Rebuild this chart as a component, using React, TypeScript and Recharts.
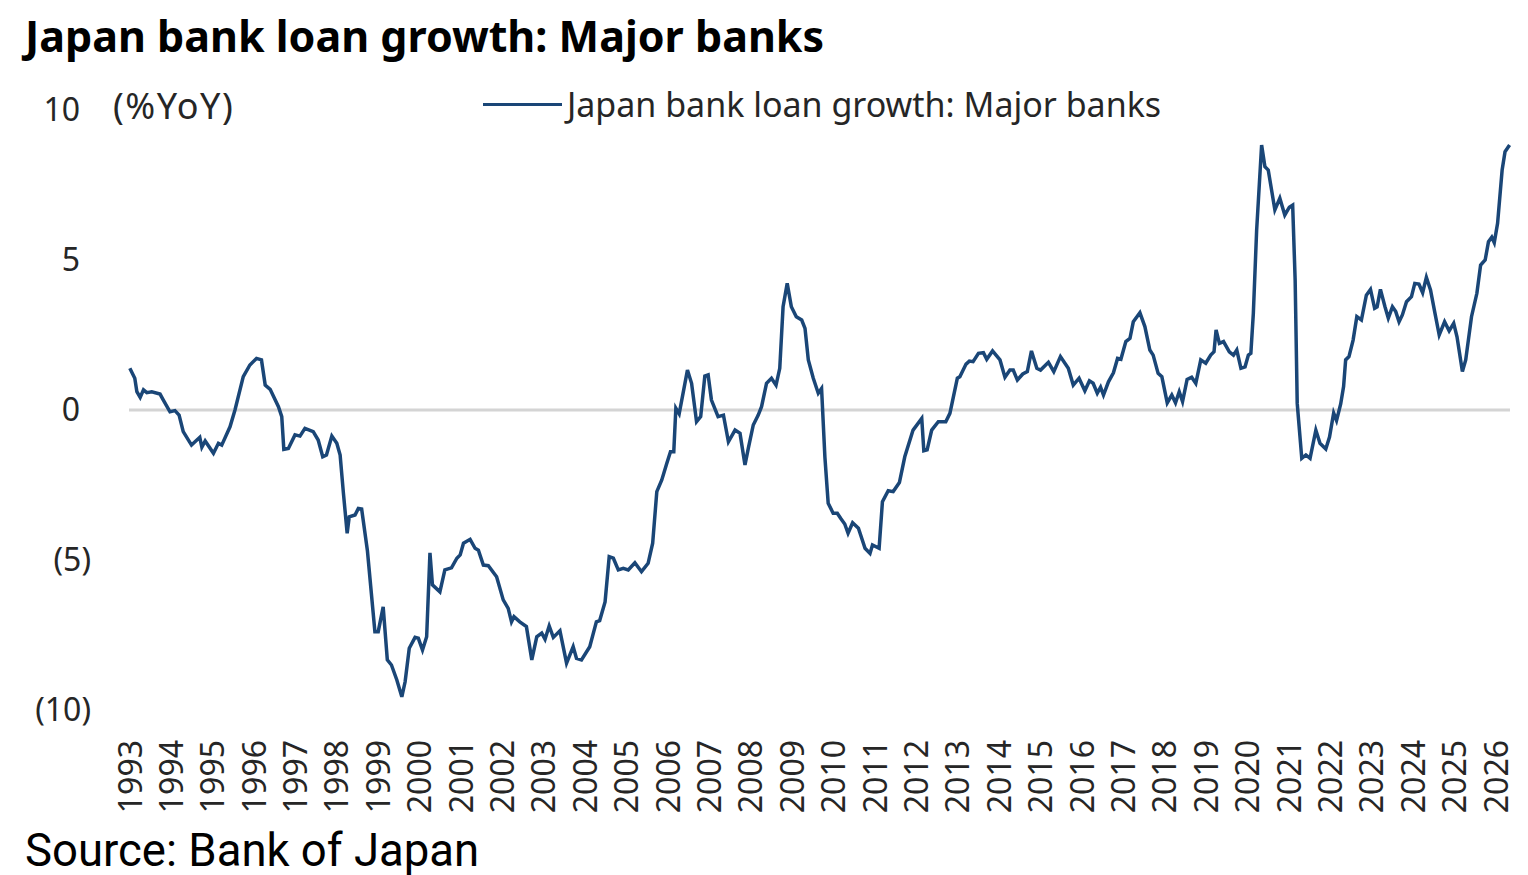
import { CartesianGrid, Legend, Line, LineChart, ReferenceLine, XAxis, YAxis } from "recharts";

const obsDates = [
  1993.02, 1993.14, 1993.19, 1993.27, 1993.35, 1993.43, 1993.55, 1993.75, 1993.83, 1993.99,
  1994.11, 1994.21, 1994.31, 1994.51, 1994.71, 1994.76, 1994.84, 1995.04, 1995.16, 1995.24,
  1995.44, 1995.56, 1995.76, 1995.92, 1996.08, 1996.2, 1996.29, 1996.41, 1996.61, 1996.69,
  1996.74, 1996.85, 1997.01, 1997.13, 1997.25, 1997.45, 1997.57, 1997.68, 1997.77, 1997.9,
  1998.02, 1998.1, 1998.18, 1998.27, 1998.32, 1998.46, 1998.54, 1998.62, 1998.76, 1998.94,
  1999.02, 1999.14, 1999.24, 1999.34, 1999.47, 1999.59, 1999.67, 1999.77, 1999.91, 1999.99,
  2000.09, 2000.19, 2000.27, 2000.33, 2000.51, 2000.63, 2000.79, 2000.92, 2001.0, 2001.08,
  2001.24, 2001.36, 2001.44, 2001.56, 2001.68, 2001.88, 2002.04, 2002.16, 2002.24, 2002.3,
  2002.44, 2002.6, 2002.73, 2002.85, 2002.97, 2003.05, 2003.15, 2003.25, 2003.41, 2003.57,
  2003.73, 2003.81, 2003.93, 2004.13, 2004.29, 2004.37, 2004.5, 2004.6, 2004.7, 2004.82,
  2004.94, 2005.06, 2005.22, 2005.38, 2005.54, 2005.65, 2005.75, 2005.87, 2005.99, 2006.08,
  2006.16, 2006.21, 2006.29, 2006.49, 2006.59, 2006.71, 2006.81, 2006.91, 2006.99, 2007.07,
  2007.23, 2007.36, 2007.48, 2007.64, 2007.76, 2007.88, 2007.96, 2008.08, 2008.2, 2008.28,
  2008.4, 2008.52, 2008.63, 2008.72, 2008.8, 2008.9, 2009.0, 2009.12, 2009.25, 2009.33,
  2009.41, 2009.53, 2009.65, 2009.73, 2009.81, 2009.89, 2010.01, 2010.11, 2010.19, 2010.29,
  2010.37, 2010.48, 2010.62, 2010.78, 2010.9, 2010.96, 2011.12, 2011.2, 2011.34, 2011.46,
  2011.61, 2011.74, 2011.94, 2012.15, 2012.2, 2012.28, 2012.39, 2012.55, 2012.73, 2012.83,
  2013.01, 2013.07, 2013.22, 2013.3, 2013.39, 2013.52, 2013.64, 2013.72, 2013.86, 2014.04,
  2014.16, 2014.28, 2014.36, 2014.46, 2014.59, 2014.7, 2014.8, 2014.93, 2015.02, 2015.21,
  2015.34, 2015.5, 2015.69, 2015.81, 2015.95, 2016.09, 2016.2, 2016.29, 2016.39, 2016.47,
  2016.54, 2016.66, 2016.78, 2016.88, 2016.96, 2017.08, 2017.18, 2017.26, 2017.42, 2017.54,
  2017.66, 2017.74, 2017.86, 2017.95, 2018.08, 2018.19, 2018.28, 2018.37, 2018.45, 2018.56,
  2018.67, 2018.77, 2018.89, 2019.01, 2019.13, 2019.21, 2019.26, 2019.34, 2019.44, 2019.58,
  2019.68, 2019.76, 2019.86, 2019.96, 2020.04, 2020.1, 2020.16, 2020.24, 2020.36, 2020.44,
  2020.52, 2020.68, 2020.8, 2020.92, 2021.03, 2021.11, 2021.17, 2021.22, 2021.33, 2021.43,
  2021.53, 2021.67, 2021.77, 2021.91, 2022.0, 2022.1, 2022.17, 2022.27, 2022.34, 2022.39,
  2022.47, 2022.57, 2022.66, 2022.77, 2022.89, 2022.99, 2023.09, 2023.15, 2023.23, 2023.34,
  2023.42, 2023.52, 2023.6, 2023.68, 2023.76, 2023.86, 2023.98, 2024.06, 2024.16, 2024.25,
  2024.34, 2024.44, 2024.54, 2024.65, 2024.78, 2024.89, 2025.0, 2025.08, 2025.21, 2025.29,
  2025.43, 2025.56, 2025.65, 2025.76, 2025.84, 2025.92, 2025.98, 2026.06, 2026.17, 2026.24,
  2026.35,
];

// major banks loan growth, %YoY
const majorBanksYoY = [
  1.39, 1.06, 0.61, 0.42, 0.67, 0.58, 0.61, 0.53, 0.33, -0.06,
  -0.02, -0.17, -0.72, -1.17, -0.91, -1.24, -1.03, -1.44, -1.11, -1.17,
  -0.56, 0.0, 1.11, 1.5, 1.72, 1.67, 0.83, 0.69, 0.11, -0.22,
  -1.31, -1.28, -0.83, -0.87, -0.61, -0.72, -1.0, -1.56, -1.5, -0.87,
  -1.11, -1.5, -2.78, -4.11, -3.56, -3.5, -3.28, -3.3, -4.7, -7.39,
  -7.39, -6.56, -8.33, -8.5, -9.0, -9.56, -9.06, -7.94, -7.58, -7.61,
  -8.0, -7.56, -4.76, -5.83, -6.06, -5.33, -5.26, -4.94, -4.83, -4.44,
  -4.31, -4.61, -4.67, -5.17, -5.19, -5.56, -6.33, -6.61, -7.06, -6.89,
  -7.06, -7.22, -8.33, -7.56, -7.44, -7.64, -7.2, -7.58, -7.36, -8.44,
  -7.89, -8.28, -8.33, -7.89, -7.06, -7.02, -6.4, -4.89, -4.94, -5.33,
  -5.28, -5.33, -5.09, -5.39, -5.11, -4.44, -2.72, -2.33, -1.78, -1.39,
  -1.39, 0.06, -0.13, 1.33, 0.89, -0.39, -0.22, 1.13, 1.17, 0.33,
  -0.22, -0.17, -1.06, -0.67, -0.78, -1.83, -1.28, -0.5, -0.17, 0.11,
  0.89, 1.06, 0.83, 1.39, 3.44, 4.22, 3.44, 3.11, 3.0, 2.72,
  1.67, 1.06, 0.56, 0.72, -1.56, -3.11, -3.44, -3.44, -3.61, -3.8,
  -4.11, -3.76, -3.94, -4.61, -4.78, -4.5, -4.61, -3.06, -2.69, -2.72,
  -2.42, -1.56, -0.67, -0.28, -1.36, -1.33, -0.67, -0.39, -0.39, -0.11,
  1.06, 1.11, 1.53, 1.63, 1.61, 1.89, 1.91, 1.69, 1.97, 1.67,
  1.09, 1.33, 1.33, 1.0, 1.2, 1.28, 1.97, 1.39, 1.33, 1.59,
  1.28, 1.78, 1.39, 0.83, 1.06, 0.64, 0.97, 0.89, 0.56, 0.76,
  0.5, 0.94, 1.24, 1.72, 1.69, 2.28, 2.39, 2.94, 3.24, 2.78,
  2.0, 1.83, 1.22, 1.11, 0.24, 0.5, 0.24, 0.61, 0.28, 1.02,
  1.09, 0.89, 1.67, 1.56, 1.83, 1.94, 2.67, 2.22, 2.28, 1.94,
  1.83, 2.0, 1.39, 1.44, 1.83, 1.89, 3.22, 6.0, 8.83, 8.11,
  8.0, 6.67, 7.06, 6.5, 6.76, 6.83, 4.33, 0.22, -1.61, -1.5,
  -1.61, -0.67, -1.11, -1.3, -0.9, -0.1, -0.35, 0.2, 0.78, 1.67,
  1.78, 2.33, 3.11, 3.0, 3.83, 4.02, 3.39, 3.44, 4.02, 3.44,
  3.06, 3.44, 3.28, 2.94, 3.17, 3.61, 3.78, 4.22, 4.2, 3.91,
  4.42, 4.0, 3.28, 2.5, 2.94, 2.64, 2.89, 2.44, 1.28, 1.67,
  3.11, 3.89, 4.83, 5.0, 5.61, 5.76, 5.58, 6.22, 8.0, 8.61,
  8.83,
];

const yearTicks = [
  1993, 1994, 1995, 1996, 1997, 1998, 1999, 2000, 2001, 2002, 2003, 2004,
  2005, 2006, 2007, 2008, 2009, 2010, 2011, 2012, 2013, 2014, 2015, 2016,
  2017, 2018, 2019, 2020, 2021, 2022, 2023, 2024, 2025, 2026,
];
const valueTicks = [-10, -5, 0, 5, 10];

const SERIES = "Japan bank loan growth: Major banks";
const NAVY = "#1a4677";
const INK = "#262626";
const FONT = "'Noto Sans', sans-serif";

const data = obsDates.map((t, i) => ({ t, v: majorBanksYoY[i] }));

// excel style "0_);(0)" labels
function ValueTick({ x, y, payload }: any) {
  const v = payload.value as number;
  return (
    <text x={v < 0 ? x : x - 11} y={y - 2} textAnchor="end" dominantBaseline="central"
      fill={INK} fontSize={32} fontFamily={FONT}>
      {v < 0 ? `(${-v})` : v}
    </text>
  );
}

function YearTick({ x, y, payload }: any) {
  return (
    <text x={x} y={y} transform={`rotate(-90, ${x}, ${y})`} textAnchor="end" dominantBaseline="central"
      fill={INK} fontSize={32} fontFamily={FONT}>
      {payload.value}
    </text>
  );
}

function LegendRow() {
  return (
    <div style={{ display: "flex", alignItems: "center", height: 40 }}>
      <span style={{ width: 79, height: 3, background: NAVY, display: "inline-block" }} />
      <span style={{ marginLeft: 5, fontSize: 34, fontFamily: FONT, color: INK, whiteSpace: "nowrap" }}>{SERIES}</span>
    </div>
  );
}

export default function App() {
  return (
    <div style={{ position: "absolute", left: 0, top: 0, width: 1528, height: 875, background: "#fff" }}>
      <div style={{ position: "absolute", left: 25, top: 14, fontFamily: FONT, fontWeight: 700, fontSize: 43, lineHeight: 1, color: "#000", whiteSpace: "nowrap" }}>
        {SERIES}
      </div>
      <div style={{ position: "absolute", left: 113, top: 88, fontFamily: FONT, fontSize: 36, letterSpacing: 1.5, lineHeight: 1, color: INK }}>
        (%YoY)
      </div>
      <LineChart width={1528} height={875} data={data} margin={{ top: 110, right: 18, left: 0, bottom: 65 }}>
        <CartesianGrid horizontal={false} vertical={false} />
        <XAxis dataKey="t" type="number" domain={[1993, 2026.36]} ticks={yearTicks} interval={0}
          axisLine={false} tickLine={false} tickSize={0} tickMargin={30} height={100} tick={<YearTick />} />
        <YAxis domain={[-10, 10]} ticks={valueTicks} axisLine={false} tickLine={false} tickSize={0}
          tickMargin={38} width={129} tick={<ValueTick />} />
        <ReferenceLine y={0} stroke="#d4d4d4" strokeWidth={3} />
        <Legend layout="horizontal" verticalAlign="middle" align="center"
          wrapperStyle={{ top: 84, left: 483, width: 760, height: 40 }} content={() => <LegendRow />} />
        <Line type="linear" dataKey="v" name={SERIES} stroke={NAVY} strokeWidth={3.5} dot={false}
          activeDot={false} isAnimationActive={false} />
      </LineChart>
      <div style={{ position: "absolute", left: 25, top: 828, fontFamily: "Roboto, sans-serif", fontSize: 45.5, lineHeight: 1, color: "#000", whiteSpace: "nowrap" }}>
        Source: Bank of Japan
      </div>
    </div>
  );
}
